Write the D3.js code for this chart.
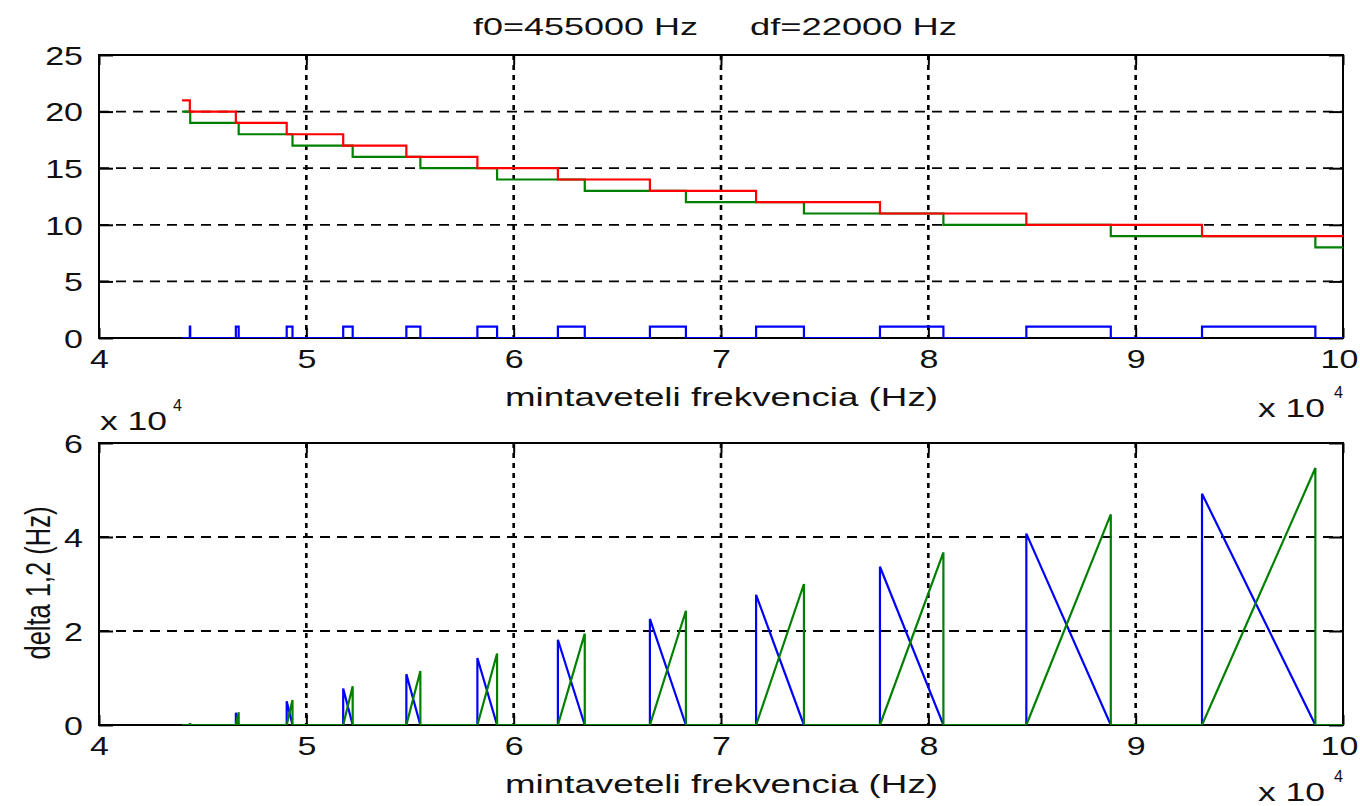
<!DOCTYPE html>
<html>
<head>
<meta charset="utf-8">
<script src="https://cdn.jsdelivr.net/npm/d3@7"></script>
<style>
  body { margin: 0; background: #fff; }
  text { font-family: "Liberation Sans", Arial, sans-serif; fill: #111; }
</style>
</head>
<body>
<div id="chart"></div>
<script>
// ---- data ----
// top plot: integer counts (step functions of the sampling frequency)
const fsRedStep   = [44000, 44381, 46600, 49053, 51778, 54824, 58250, 62133, 66571, 71692, 77667, 84727, 93200];
const redCount    = [21, 20, 19, 18, 17, 16, 15, 14, 13, 12, 11, 10, 9];
const fsGreenStep = [44000, 44400, 46737, 49333, 52235, 55500, 59200, 63429, 68308, 74000, 80727, 88800, 98667];
const greenCount  = [20, 19, 18, 17, 16, 15, 14, 13, 12, 11, 10, 9, 8];

// bands where the blue flag is 1 (and where the deltas are non zero)
const bandStart  = [44381, 46600, 49053, 51778, 54824, 58250, 62133, 66571, 71692, 77667, 84727, 93200];
const bandEnd    = [44400, 46737, 49333, 52235, 55500, 59200, 63429, 68308, 74000, 80727, 88800, 98667];
const delta1Peak = [381, 2600, 5053, 7778, 10824, 14250, 18133, 22571, 27692, 33667, 40727, 49200];
const delta2Peak = [400, 2737, 5333, 8235, 11500, 15200, 19429, 24308, 30000, 36727, 44800, 54670];

const fsMin = 44000, fsMax = 100000;
const xTicks = [40000, 50000, 60000, 70000, 80000, 90000, 100000];
const yTopTicks = [0, 5, 10, 15, 20, 25];
const yBotTicks = [0, 20000, 40000, 60000];

// ---- layout ----
const W = 1360, H = 806;
const LEFT = 99, RIGHT = 1343;
const TOP = { top: 55, bottom: 338 };
const BOT = { top: 443, bottom: 725 };
const SX = 1.36; // glyphs are stretched horizontally in the original

const svg = d3.select("#chart").append("svg").attr("width", W).attr("height", H);

const x = d3.scaleLinear().domain([40000, 100000]).range([LEFT, RIGHT]);
const yTop = d3.scaleLinear().domain([0, 25]).range([TOP.bottom, TOP.top]);
const yBot = d3.scaleLinear().domain([0, 60000]).range([BOT.bottom, BOT.top]);

function frame(box, y, yTicks, yFmt, id) {
    const g = svg.append("g");

    g.append("clipPath").attr("id", id)
        .append("rect").attr("x", LEFT).attr("y", box.top)
        .attr("width", RIGHT - LEFT).attr("height", box.bottom - box.top);

    // grid (interior ticks only)
    g.selectAll(".vg").data(xTicks.slice(1, -1)).join("line")
        .attr("x1", d => x(d)).attr("x2", d => x(d))
        .attr("y1", box.top).attr("y2", box.bottom)
        .attr("stroke", "#000").attr("stroke-width", 2.6)
        .attr("stroke-dasharray", "5,5");
    g.selectAll(".hg").data(yTicks.slice(1, -1)).join("line")
        .attr("x1", LEFT).attr("x2", RIGHT)
        .attr("y1", d => y(d)).attr("y2", d => y(d))
        .attr("stroke", "#000").attr("stroke-width", 1.8)
        .attr("stroke-dasharray", "10,7");

    // ticks pointing inwards on all four sides
    const bottomAxis = g.append("g").attr("transform", `translate(0,${box.bottom})`)
        .call(d3.axisBottom(x).tickValues(xTicks).tickSizeInner(-10).tickSizeOuter(0)
            .tickFormat(d => d / 10000));
    g.append("g").attr("transform", `translate(0,${box.top})`)
        .call(d3.axisTop(x).tickValues(xTicks).tickSizeInner(-10).tickSizeOuter(0).tickFormat(""));
    const leftAxis = g.append("g").attr("transform", `translate(${LEFT},0)`)
        .call(d3.axisLeft(y).tickValues(yTicks).tickSizeInner(-14).tickSizeOuter(0).tickFormat(yFmt));
    g.append("g").attr("transform", `translate(${RIGHT},0)`)
        .call(d3.axisRight(y).tickValues(yTicks).tickSizeInner(-14).tickSizeOuter(0).tickFormat(""));

    g.selectAll(".domain").remove();
    g.selectAll(".tick line").attr("stroke", "#000").attr("stroke-width", 2);

    bottomAxis.selectAll("text")
        .attr("y", 30).attr("dy", null)
        .attr("font-size", 25)
        .attr("x", (d, i, n) => i === n.length - 1 ? -4 / SX : 0)
        .attr("transform", `scale(${SX},1)`);
    leftAxis.selectAll("text")
        .attr("x", -16 / SX).attr("dy", "0.37em")
        .attr("font-size", 25)
        .attr("transform", `scale(${SX},1)`);

    g.append("rect").attr("x", LEFT).attr("y", box.top)
        .attr("width", RIGHT - LEFT).attr("height", box.bottom - box.top)
        .attr("fill", "none").attr("stroke", "#000").attr("stroke-width", 2);

    return g;
}

function stretchedText(txt, px, py, len, size) {
    return svg.append("text").attr("x", px).attr("y", py)
        .attr("font-size", size)
        .attr("textLength", len).attr("lengthAdjust", "spacingAndGlyphs")
        .text(txt);
}

// ---------------- top plot ----------------
const gTop = frame(TOP, yTop, yTopTicks, d => d, "clipTop");

const redPts = fsRedStep.map((f, i) => [f, redCount[i]]).concat([[fsMax, redCount[redCount.length - 1]]]);
const greenPts = fsGreenStep.map((f, i) => [f, greenCount[i]]).concat([[fsMax, greenCount[greenCount.length - 1]]]);
const flagPts = [[fsMin, 0]];
bandStart.forEach((s, i) => { flagPts.push([s, 1]); flagPts.push([bandEnd[i], 0]); });
flagPts.push([fsMax, 0]);

const stepLine = d3.line().x(d => x(d[0])).y(d => yTop(d[1])).curve(d3.curveStepAfter);
const dataTop = gTop.append("g").attr("clip-path", "url(#clipTop)");
[[greenPts, "#008000"], [redPts, "#ff0000"], [flagPts, "#0000ff"]].forEach(([pts, col]) => {
    dataTop.append("path").datum(pts).attr("d", stepLine)
        .attr("fill", "none").attr("stroke", col).attr("stroke-width", 2.2);
});

// ---------------- bottom plot ----------------
const gBot = frame(BOT, yBot, yBotTicks, d => d / 10000, "clipBot");

const d1Pts = [[fsMin, 0]];
const d2Pts = [[fsMin, 0]];
bandStart.forEach((s, i) => {
    d1Pts.push([s, 0], [s, delta1Peak[i]], [bandEnd[i], 0]);
    d2Pts.push([s, 0], [bandEnd[i], delta2Peak[i]], [bandEnd[i], 0]);
});
d1Pts.push([fsMax, 0]);
d2Pts.push([fsMax, 0]);

const linLine = d3.line().x(d => x(d[0])).y(d => yBot(d[1]));
const dataBot = gBot.append("g").attr("clip-path", "url(#clipBot)");
[[d1Pts, "#0000ff"], [d2Pts, "#008000"]].forEach(([pts, col]) => {
    dataBot.append("path").datum(pts).attr("d", linLine)
        .attr("fill", "none").attr("stroke", col).attr("stroke-width", 2.2);
});

// ---------------- texts ----------------
stretchedText("f0=455000 Hz", 473, 35, 225, 24);
stretchedText("df=22000 Hz", 750, 35, 207, 24);

stretchedText("mintaveteli frekvencia (Hz)", 505, 406, 433, 25);
stretchedText("mintaveteli frekvencia (Hz)", 505, 793, 433, 25);

// exponent labels
stretchedText("x 10", 1258, 417, 67, 25);
stretchedText("4", 1334, 398, 9, 17);
stretchedText("x 10", 1258, 801, 67, 25);
stretchedText("4", 1334, 782, 9, 17);
stretchedText("x 10", 100, 430, 67, 25);
stretchedText("4", 173, 411, 9, 17);

svg.append("text")
    .attr("transform", `translate(50,583) scale(1.4,1) rotate(-90)`)
    .attr("text-anchor", "middle")
    .attr("font-size", 25)
    .attr("textLength", 153).attr("lengthAdjust", "spacingAndGlyphs")
    .text("delta 1,2 (Hz)");
</script>
</body>
</html>
